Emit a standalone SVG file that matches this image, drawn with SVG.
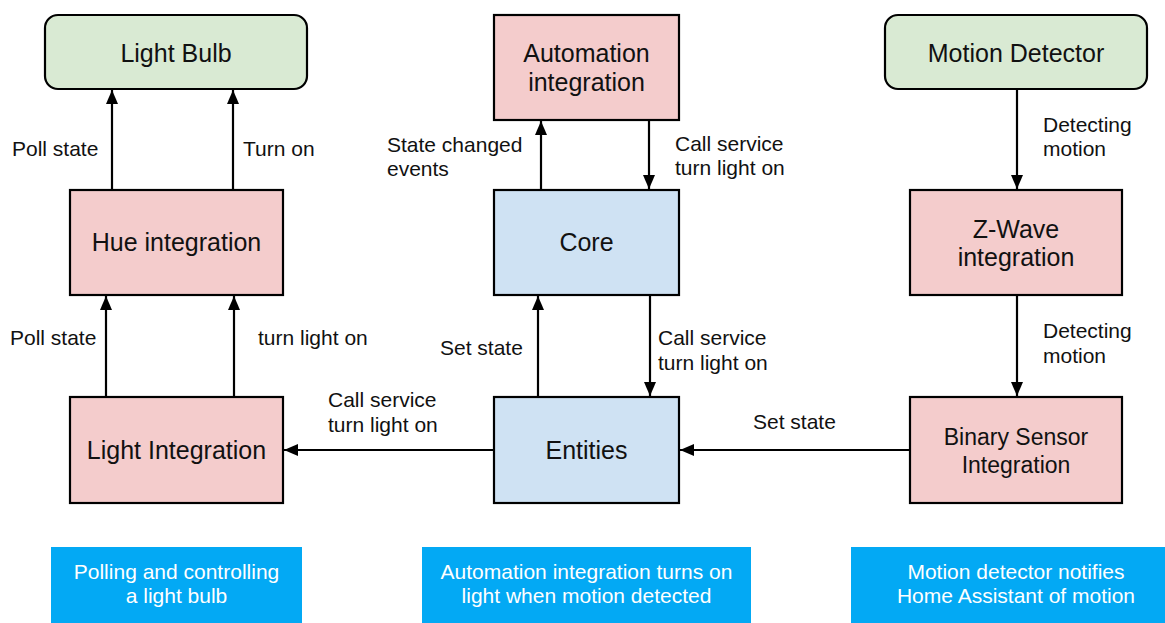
<svg xmlns="http://www.w3.org/2000/svg" width="1165" height="623" viewBox="0 0 1165 623">
<style>
.n{stroke:#000;stroke-width:2.2}
.g{fill:#d9ead3}.p{fill:#f4cccc}.b{fill:#cfe2f3}
.t{font-family:"Liberation Sans",Arial,sans-serif;font-size:25px;fill:#111;text-anchor:middle}
.l{font-family:"Liberation Sans",Arial,sans-serif;font-size:21px;fill:#111}
.c{fill:#03a9f4}
.w{font-family:"Liberation Sans",Arial,sans-serif;font-size:21px;fill:#fff;text-anchor:middle}
.e{stroke:#000;stroke-width:2.2;fill:none;marker-end:url(#a)}
</style>
<defs>
<marker id="a" markerUnits="userSpaceOnUse" markerWidth="16" markerHeight="16" viewBox="0 0 16 16" refX="14" refY="8" orient="auto">
<path d="M0,2 L14,8 L0,14 z" fill="#000"/>
</marker>
</defs>
<rect width="1165" height="623" fill="#fff"/>
<g id="connectors">
<line class="e" x1="112" y1="190" x2="112" y2="90"/>
<line class="e" x1="233" y1="190" x2="233" y2="90"/>
<line class="e" x1="106" y1="397" x2="106" y2="296"/>
<line class="e" x1="234" y1="397" x2="234" y2="296"/>
<line class="e" x1="541" y1="190" x2="541" y2="121"/>
<line class="e" x1="649" y1="120" x2="649" y2="189"/>
<line class="e" x1="538" y1="397" x2="538" y2="296"/>
<line class="e" x1="650" y1="295" x2="650" y2="396"/>
<line class="e" x1="494" y1="450" x2="284" y2="450"/>
<line class="e" x1="910" y1="450" x2="680" y2="450"/>
<line class="e" x1="1017" y1="89" x2="1017" y2="189"/>
<line class="e" x1="1017" y1="295" x2="1017" y2="396"/>
<text class="l" x="12" y="156">Poll state</text>
<text class="l" x="243" y="156">Turn on</text>
<text class="l" x="10" y="345">Poll state</text>
<text class="l" x="258" y="345">turn light on</text>
<text class="l" x="387" y="152">State changed</text>
<text class="l" x="387" y="176">events</text>
<text class="l" x="675" y="151">Call service</text>
<text class="l" x="675" y="175">turn light on</text>
<text class="l" x="440" y="355">Set state</text>
<text class="l" x="658" y="345">Call service</text>
<text class="l" x="658" y="370">turn light on</text>
<text class="l" x="328" y="407">Call service</text>
<text class="l" x="328" y="432">turn light on</text>
<text class="l" x="753" y="429">Set state</text>
<text class="l" x="1043" y="132">Detecting</text>
<text class="l" x="1043" y="156">motion</text>
<text class="l" x="1043" y="338">Detecting</text>
<text class="l" x="1043" y="363">motion</text>
</g>
<g id="light-bulb"><rect class="n g" x="45" y="15" width="262" height="74" rx="13"/><text class="t" x="176" y="62">Light Bulb</text></g>
<g id="hue-integration"><rect class="n p" x="70" y="190" width="213" height="105"/><text class="t" x="176.5" y="251">Hue integration</text></g>
<g id="light-integration"><rect class="n p" x="70" y="397" width="213" height="106"/><text class="t" x="176.5" y="459">Light Integration</text></g>
<g id="automation-integration"><rect class="n p" x="494" y="15" width="185" height="105"/><text class="t" x="586.5" y="62">Automation</text><text class="t" x="586.5" y="91">integration</text></g>
<g id="core"><rect class="n b" x="494" y="190" width="185" height="105"/><text class="t" x="586.5" y="251">Core</text></g>
<g id="entities"><rect class="n b" x="494" y="397" width="185" height="106"/><text class="t" x="586.5" y="459">Entities</text></g>
<g id="motion-detector"><rect class="n g" x="885" y="15" width="262" height="74" rx="13"/><text class="t" x="1016" y="62">Motion Detector</text></g>
<g id="zwave-integration"><rect class="n p" x="910" y="190" width="212" height="105"/><text class="t" x="1016" y="238">Z-Wave</text><text class="t" x="1016" y="266">integration</text></g>
<g id="binary-sensor-integration"><rect class="n p" x="910" y="397" width="212" height="106"/><text class="t" x="1016" y="445" style="font-size:23px">Binary Sensor</text><text class="t" x="1016" y="473" style="font-size:23px">Integration</text></g>
<g id="caption-left"><rect class="c" x="51" y="547" width="251" height="76"/><text class="w" x="176.5" y="579">Polling and controlling</text><text class="w" x="176.5" y="603">a light bulb</text></g>
<g id="caption-middle"><rect class="c" x="422" y="547" width="329" height="76"/><text class="w" x="586.5" y="579">Automation integration turns on</text><text class="w" x="586.5" y="603">light when motion detected</text></g>
<g id="caption-right"><rect class="c" x="851" y="547" width="314" height="76"/><text class="w" x="1016" y="579">Motion detector notifies</text><text class="w" x="1016" y="603">Home Assistant of motion</text></g>
</svg>
